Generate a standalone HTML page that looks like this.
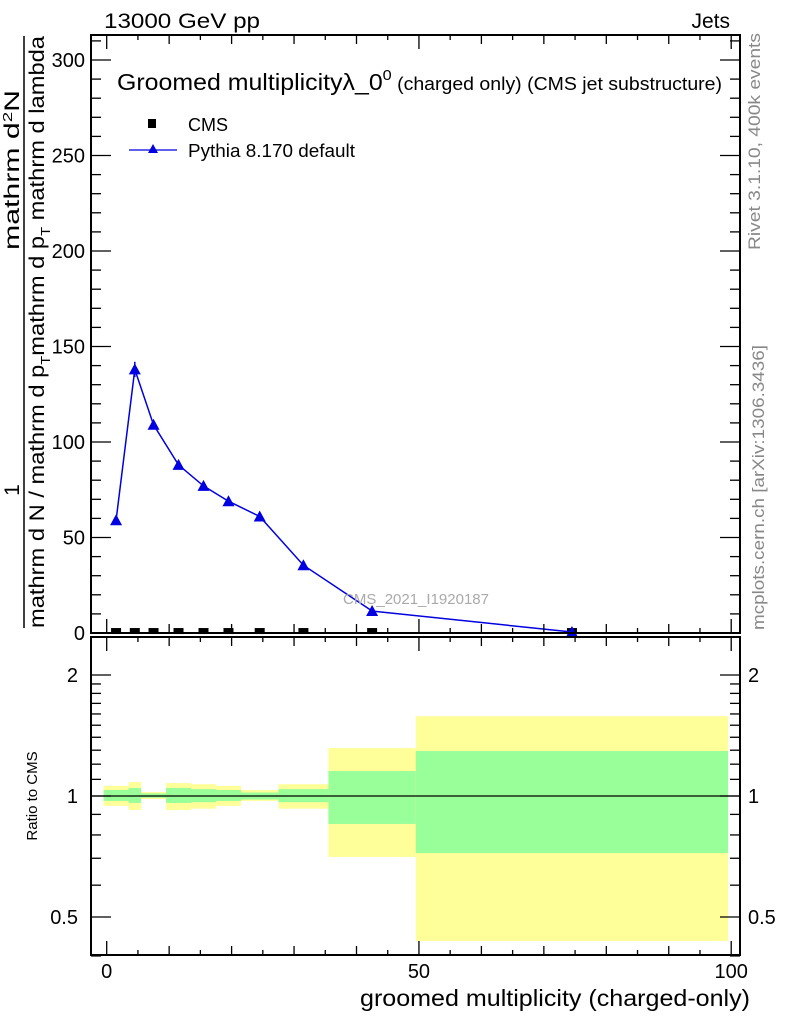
<!DOCTYPE html>
<html><head><meta charset="utf-8">
<style>
html,body{margin:0;padding:0;background:#fff;}
svg{display:block;font-family:"Liberation Sans",sans-serif;}
</style></head>
<body>
<svg id="chart" width="786" height="1024" viewBox="0 0 786 1024" xmlns="http://www.w3.org/2000/svg">
<g id="bands"></g>
<g id="marks"></g>
<g id="axes"></g>
<text x="104" y="28" font-size="21" textLength="156" lengthAdjust="spacingAndGlyphs">13000 GeV pp</text>
<text x="730" y="28" font-size="21" text-anchor="end">Jets</text>
<text x="117" y="90" font-size="23" textLength="605" lengthAdjust="spacingAndGlyphs">Groomed multiplicityλ_0<tspan font-size="15" dy="-10">0</tspan><tspan font-size="18" dy="10"> (charged only) (CMS jet substructure)</tspan></text>
<rect x="148" y="119" width="8" height="9" fill="#000"/>
<text x="188" y="131" font-size="18">CMS</text>
<line x1="129" y1="150" x2="177" y2="150" stroke="#0000e0" stroke-width="1.3"/>
<polygon points="153,144 148,153 158,153" fill="#0000e0"/>
<text x="188" y="157" font-size="18" textLength="167" lengthAdjust="spacingAndGlyphs">Pythia 8.170 default</text>
<text x="416" y="604" font-size="15" fill="#aaa" text-anchor="middle">CMS_2021_I1920187</text>
<text transform="translate(760,250) rotate(-90)" font-size="17" fill="#888" textLength="217" lengthAdjust="spacingAndGlyphs">Rivet 3.1.10,  400k events</text>
<text transform="translate(764,630) rotate(-90)" font-size="17" fill="#888" textLength="285" lengthAdjust="spacingAndGlyphs">mcplots.cern.ch [arXiv:1306.3436]</text>
<g font-size="21">
<text transform="translate(19,490) rotate(-90)" text-anchor="middle">1</text>
<text transform="translate(19,250) rotate(-90)" textLength="160" lengthAdjust="spacingAndGlyphs">mathrm d<tspan font-size="13" dy="-7">2</tspan><tspan dy="7">N</tspan></text>
<line x1="24" y1="628" x2="24" y2="36" stroke="#000" stroke-width="1.5"/>
<text transform="translate(44,628) rotate(-90)" textLength="592" lengthAdjust="spacingAndGlyphs">mathrm d N / mathrm d p<tspan font-size="13" dy="6">T</tspan><tspan dy="-6">mathrm d p</tspan><tspan font-size="13" dy="6">T</tspan><tspan dy="-6"> mathrm d lambda</tspan></text>
</g>
<text transform="translate(37,796) rotate(-90)" font-size="15" text-anchor="middle">Ratio to CMS</text>
<text x="750" y="1006" font-size="23" text-anchor="end" textLength="390" lengthAdjust="spacingAndGlyphs">groomed multiplicity (charged-only)</text>
</svg>
<script>
const binEdges=[-0.5,3.5,5.5,9.5,13.5,17.5,21.5,27.5,35.5,49.5,99.5];
const xCenters=[1.5,4.5,7.5,11.5,15.5,19.5,24.5,31.5,42.5,74.5];
const pythiaVals=[59,138,109,88,77,69,61,35.5,11.5,0.5];
const pythiaErr=[1,4,2,1.5,1,1,1,0.5,0.3,0.1];
const cmsVals=[0.5,0.5,0.5,0.5,0.5,0.5,0.5,0.5,0.5,0.5];
const yellowHi=[1.06,1.083,1.023,1.077,1.07,1.06,1.035,1.07,1.316,1.58];
const yellowLo=[0.945,0.923,0.983,0.923,0.93,0.945,0.972,0.93,0.705,0.436];
const greenHi=[1.035,1.047,1.015,1.047,1.04,1.035,1.02,1.04,1.154,1.294];
const greenLo=[0.972,0.961,0.99,0.961,0.965,0.972,0.98,0.965,0.852,0.721];
const xTicks=[0,50,100];
const yTicks=[0,50,100,150,200,250,300];
const rTicks=[0.5,1,2];

const NS="http://www.w3.org/2000/svg";
const L=91,R=740,T=35,MB=633,RT=637,RB=955;
const X=v=>106.7+(v)*6.245;
const Y=v=>MB-v*1.91;
const RY=v=>796-Math.log2(v)*121;
function mk(p,tag,attrs){const e=document.createElementNS(NS,tag);for(const k in attrs)e.setAttribute(k,attrs[k]);p.appendChild(e);return e;}
const bands=document.getElementById('bands'),marks=document.getElementById('marks'),axes=document.getElementById('axes');
const cl=v=>Math.max(RT,Math.min(RB,v));
for(let i=0;i<xCenters.length;i++){
  const x0=X(binEdges[i]),x1=X(binEdges[i+1]);
  const y=mk(bands,'rect',{x:x0,y:cl(RY(yellowHi[i])),width:x1-x0,height:cl(RY(yellowLo[i]))-cl(RY(yellowHi[i])),fill:'#ffff99'});
  
  
  const g=mk(bands,'rect',{x:x0,y:RY(greenHi[i]),width:x1-x0,height:RY(greenLo[i])-RY(greenHi[i]),fill:'#99ff99'});
  
  
}
const one=mk(marks,'line',{x1:L,x2:R,y1:RY(1),y2:RY(1),stroke:'#000','stroke-width':1.2});


for(let i=0;i<xCenters.length;i++){
  const r=mk(marks,'rect',{x:X(xCenters[i])-5,y:Y(cmsVals[i])-4,width:10,height:6,fill:'#000'});
  
  
}
const pts=xCenters.map((x,i)=>X(x)+','+Y(pythiaVals[i])).join(' ');
const pl=mk(marks,'polyline',{points:pts,fill:'none',stroke:'#0000e0','stroke-width':1.5});


for(let i=0;i<xCenters.length;i++){
  const x=X(xCenters[i]),y=Y(pythiaVals[i]);
  const e=mk(marks,'line',{x1:x,x2:x,y1:Y(pythiaVals[i]+pythiaErr[i]),y2:Y(pythiaVals[i]-pythiaErr[i]),stroke:'#0000e0','stroke-width':1.5});
  
  
  const p=mk(marks,'polygon',{points:`${x},${y-6} ${x-6},${y+5} ${x+6},${y+5}`,fill:'#0000e0'});
  
  
}
for(const [t,b] of [[T,MB],[RT,RB]]){
  const f=mk(axes,'rect',{x:L,y:t,width:R-L,height:b-t,fill:'none',stroke:'#000','stroke-width':2});
  
  
}
for(let v=0;v<=100;v+=5){
  const big2=v%50===0?14:(v%10===0?9:5);
  for(const [t,b] of [[T,MB],[RT,RB]]){
    mk(axes,'line',{x1:X(v),x2:X(v),y1:b,y2:b-big2,stroke:'#000','stroke-width':1.3});
    mk(axes,'line',{x1:X(v),x2:X(v),y1:t,y2:t+big2,stroke:'#000','stroke-width':1.3});
  }
}
xTicks.forEach(v=>{
  const t=mk(axes,'text',{x:X(v),y:978,'font-size':20,'text-anchor':'middle'});
  t.textContent=v;
  
  
});
for(let v=0;v<=310;v+=10){
  const len=v%50===0?20:10;
  mk(axes,'line',{x1:L,x2:L+len,y1:Y(v),y2:Y(v),stroke:'#000','stroke-width':1.3});
  mk(axes,'line',{x1:R,x2:R-len,y1:Y(v),y2:Y(v),stroke:'#000','stroke-width':1.3});
}
yTicks.forEach(v=>{
  const t=mk(axes,'text',{x:85,y:Y(v)+7,'font-size':20,'text-anchor':'end'});
  t.textContent=v;
  
  
});
const minor=[0.4,0.6,0.7,0.8,0.9,1.1,1.2,1.3,1.4,1.5,1.6,1.7,1.8,1.9];
minor.forEach(v=>{
  mk(axes,'line',{x1:L,x2:L+10,y1:RY(v),y2:RY(v),stroke:'#000','stroke-width':1.3});
  mk(axes,'line',{x1:R,x2:R-10,y1:RY(v),y2:RY(v),stroke:'#000','stroke-width':1.3});
});
rTicks.forEach(v=>{
  mk(axes,'line',{x1:L,x2:L+20,y1:RY(v),y2:RY(v),stroke:'#000','stroke-width':1.3});
  mk(axes,'line',{x1:R,x2:R-20,y1:RY(v),y2:RY(v),stroke:'#000','stroke-width':1.3});
  const t=mk(axes,'text',{x:78,y:RY(v)+7,'font-size':20,'text-anchor':'end'});
  t.textContent=v;
  
  
  const t2=mk(axes,'text',{x:748,y:RY(v)+7,'font-size':20});
  t2.textContent=v;
  
  
});
</script>
</body></html>
